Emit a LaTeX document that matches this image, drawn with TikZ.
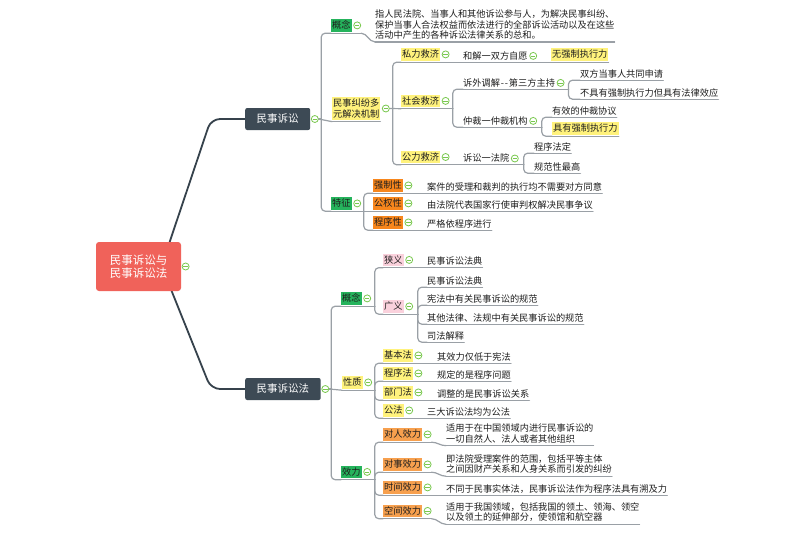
\documentclass[tikz,border=0pt]{standalone}
\usepackage{fontspec}
\newfontfamily\cjk{Noto Sans CJK SC}
\definecolor{rootred}{HTML}{F0625A}
\definecolor{darkbx}{HTML}{3D4A55}
\definecolor{yel}{HTML}{FFF27C}
\definecolor{grn}{HTML}{25B35C}
\definecolor{org}{HTML}{F7861C}
\definecolor{orgl}{HTML}{F7A04E}
\definecolor{pnk}{HTML}{FAD1DC}
\definecolor{lin}{HTML}{9AA0A6}
\definecolor{icg}{HTML}{79C84E}
\definecolor{txt}{HTML}{1E1E1E}
\definecolor{rootln}{HTML}{36424C}
\newcommand{\mmf}{\cjk\fontsize{9.2pt}{10.4pt}\selectfont}
\newcommand{\mk}[2]{\coordinate (#1s) at ([yshift=-1.5pt]#1.south west); \coordinate (#1e) at (#1s -| #2.east); \draw[ln] (#1s) -- (#1e);}
\newcommand{\mkm}[2]{\coordinate (#1s) at ([yshift=-2.5pt]#1.south west); \coordinate (#1e) at (#1s -| #2.east); \draw[ln] (#1s) -- (#1e);}
\newcommand{\lk}[3]{\draw[ln] (#1e) -- ++(#2,0); \draw[ln] ([xshift=#2pt]#1e) |- (#3s);}
\newcommand{\lks}[2]{\draw[ln] (#1e) -- (#2s);}
\newcommand{\lkc}[2]{\draw[ln] (#1e) .. controls +(6,0) and +(-6,0) .. (#2s);}
\pgfdeclarelayer{back}
\pgfdeclarelayer{bg}
\pgfsetlayers{back,bg,main}
\begin{document}
\begin{tikzpicture}[x=1pt,y=-1pt,
  t/.style={inner sep=0pt, anchor=west, font=\mmf, text=txt, text height=7.8pt, text depth=1.4pt},
  tm/.style={inner sep=0pt, anchor=west, font=\mmf, text=txt, align=left},
  bx/.style={t, inner xsep=1pt, inner ysep=1.5pt},
  yb/.style={bx, fill=yel}, gb/.style={bx, fill=grn}, ob/.style={bx, fill=org},
  ol/.style={bx, fill=orgl}, pb/.style={bx, fill=pnk},
  ybm/.style={tm, fill=yel, inner xsep=1pt, inner ysep=2pt},
  tb/.style={fill=darkbx, text=white, rounded corners=2pt, anchor=west,
    font=\cjk\fontsize{10.5pt}{12pt}\selectfont, minimum height=22pt,
    inner xsep=11.5pt, inner ysep=0pt, text height=8.6pt, text depth=1.2pt},
  rt/.style={fill=rootred, text=white, rounded corners=3pt, align=center,
    font=\cjk\fontsize{11.5pt}{13pt}\selectfont, minimum width=85pt,
    minimum height=49pt, inner sep=0pt},
  ic/.style={circle, draw=icg, fill=white, line width=0.8pt, minimum size=7pt,
    inner sep=0pt, anchor=west, path picture={\draw[icg, line width=0.8pt]
    ([xshift=-2.2pt]path picture bounding box.center) --
    ([xshift=2.2pt]path picture bounding box.center);}},
  ln/.style={draw=lin, line width=1.2pt, rounded corners=4pt, line cap=round},
  rl/.style={draw=rootln, line width=1.8pt, rounded corners=9pt, line cap=round}]
\begin{pgfonlayer}{back}
\fill[white] (0,0) rectangle (800,533);
\end{pgfonlayer}
\useasboundingbox (0,0) rectangle (800,533);
% root and main branches
\node[rt] (R) at (138.5,266.5) {民事诉讼与\\民事诉讼法};
\node[ic] (Ri) at ([xshift=0.5pt]R.east) {};
\node[tb] (B1) at (245,119) {民事诉讼};
\node[ic] (B1i) at ([xshift=0.5pt]B1.east) {};
\node[tb] (B2) at (245,389) {民事诉讼法};
\node[ic] (B2i) at ([xshift=0.5pt]B2.east) {};
% ---- 民事诉讼
\node[gb] (K1) at (331,25.4) {概念};
\node[ic] (K1i) at ([xshift=1.5pt]K1.east) {};
\node[tm] (K1t) at (375,24.5) {指人民法院、当事人和其他诉讼参与人，为解决民事纠纷、\\保护当事人合法权益而依法进行的全部诉讼活动以及在这些\\活动中产生的各种诉讼法律关系的总和。};
\node[ybm] (K2) at (332,108.5) {民事纠纷多\\元解决机制};
\node[ic] (K2i) at ([xshift=1.5pt]K2.east) {};
\node[gb] (K3) at (331,203.4) {特征};
\node[ic] (K3i) at ([xshift=1.5pt]K3.east) {};
% 私力救济
\node[yb] (S1) at (401,54.4) {私力救济};
\node[ic] (S1i) at ([xshift=1.5pt]S1.east) {};
\node[t] (S1a) at (463,55.9) {和解一双方自愿};
\node[ic] (S1ai) at ([xshift=1.5pt]S1a.east) {};
\node[yb] (S1b) at (551,54.4) {无强制执行力};
% 社会救济
\node[yb] (S2) at (401,100.9) {社会救济};
\node[ic] (S2i) at ([xshift=1.5pt]S2.east) {};
\node[t] (S2a) at (463,82.9) {诉外调解\kern0.8pt-\kern1pt-\kern0.8pt第三方主持};
\node[ic] (S2ai) at ([xshift=1.5pt]S2a.east) {};
\node[t] (S2a1) at (580,73.9) {双方当事人共同申请};
\node[t] (S2a2) at (580,92.9) {不具有强制执行力但具有法律效应};
\node[t] (S2b) at (463,120.9) {仲裁一仲裁机构};
\node[ic] (S2bi) at ([xshift=1.5pt]S2b.east) {};
\node[t] (S2b1) at (552,110.9) {有效的仲裁协议};
\node[yb] (S2b2) at (552,128.4) {具有强制执行力};
% 公力救济
\node[yb] (S3) at (401,157) {公力救济};
\node[ic] (S3i) at ([xshift=1.5pt]S3.east) {};
\node[t] (S3a) at (463,158.5) {诉讼一法院};
\node[ic] (S3ai) at ([xshift=1.5pt]S3a.east) {};
\node[t] (S3a1) at (534,146.9) {程序法定};
\node[t] (S3a2) at (534,166.9) {规范性最高};
% 特征
\node[ob] (T1) at (373,185.4) {强制性};
\node[ic] (T1i) at ([xshift=1.5pt]T1.east) {};
\node[t] (T1a) at (427,186.9) {案件的受理和裁判的执行均不需要对方同意};
\node[ob] (T2) at (373,203.4) {公权性};
\node[ic] (T2i) at ([xshift=1.5pt]T2.east) {};
\node[t] (T2a) at (427,204.9) {由法院代表国家行使审判权解决民事争议};
\node[ob] (T3) at (373,222.4) {程序性};
\node[ic] (T3i) at ([xshift=1.5pt]T3.east) {};
\node[t] (T3a) at (427,223.9) {严格依程序进行};
% ---- 民事诉讼法
\node[gb] (L1) at (341,298.4) {概念};
\node[ic] (L1i) at ([xshift=1.5pt]L1.east) {};
\node[pb] (N1) at (383,259.9) {狭义};
\node[ic] (N1i) at ([xshift=1.5pt]N1.east) {};
\node[t] (N1a) at (427,261.4) {民事诉讼法典};
\node[pb] (N2) at (383,306.4) {广义};
\node[ic] (N2i) at ([xshift=1.5pt]N2.east) {};
\node[t] (N2a) at (427,280.9) {民事诉讼法典};
\node[t] (N2b) at (427,298.9) {宪法中有关民事诉讼的规范};
\node[t] (N2c) at (427,317.9) {其他法律、法规中有关民事诉讼的规范};
\node[t] (N2d) at (427,335.9) {司法解释};
\node[yb] (L2) at (342,382.4) {性质};
\node[ic] (L2i) at ([xshift=1.5pt]L2.east) {};
\node[yb] (P1) at (383,355.4) {基本法};
\node[ic] (P1i) at ([xshift=1.5pt]P1.east) {};
\node[t] (P1a) at (437,356.9) {其效力仅低于宪法};
\node[yb] (P2) at (383,373.4) {程序法};
\node[ic] (P2i) at ([xshift=1.5pt]P2.east) {};
\node[t] (P2a) at (437,374.9) {规定的是程序问题};
\node[yb] (P3) at (383,392.4) {部门法};
\node[ic] (P3i) at ([xshift=1.5pt]P3.east) {};
\node[t] (P3a) at (437,393.9) {调整的是民事诉讼关系};
\node[yb] (P4) at (383,410.4) {公法};
\node[ic] (P4i) at ([xshift=1.5pt]P4.east) {};
\node[t] (P4a) at (427,411.9) {三大诉讼法均为公法};
\node[gb] (L3) at (341,471.9) {效力};
\node[ic] (L3i) at ([xshift=1.5pt]L3.east) {};
\node[ol] (Q1) at (383,434.4) {对人效力};
\node[ic] (Q1i) at ([xshift=1.5pt]Q1.east) {};
\node[tm] (Q1a) at (446,433.5) {适用于在中国领域内进行民事诉讼的\\一切自然人、法人或者其他组织};
\node[ol] (Q2) at (383,464.4) {对事效力};
\node[ic] (Q2i) at ([xshift=1.5pt]Q2.east) {};
\node[tm] (Q2a) at (446,464) {即法院受理案件的范围，包括平等主体\\之间因财产关系和人身关系而引发的纠纷};
\node[ol] (Q3) at (383,487.4) {时间效力};
\node[ic] (Q3i) at ([xshift=1.5pt]Q3.east) {};
\node[t] (Q3a) at (446,488.9) {不同于民事实体法，民事诉讼法作为程序法具有溯及力};
\node[ol] (Q4) at (383,510.9) {空间效力};
\node[ic] (Q4i) at ([xshift=1.5pt]Q4.east) {};
\node[tm] (Q4a) at (446,512) {适用于我国领域，包括我国的领土、领海、领空\\以及领土的延伸部分，使领馆和航空器};
% ---- connectors
\begin{pgfonlayer}{bg}
\draw[rl] ([xshift=-11.5pt]R.north east) -- ([xshift=-34pt]B1.west) -- (B1.west);
\draw[rl] ([xshift=-9.5pt]R.south east) -- ([xshift=-34pt]B2.west) -- (B2.west);
\coordinate (B1e) at (B1i.east);
\coordinate (B2e) at (B2i.east);
\mk{K1}{K1i} \mkm{K1t}{K1t} \mk{K2}{K2} \mk{K3}{K3i}
\coordinate (K2e) at (K2i.east);
\mk{S1}{S1i} \mk{S1a}{S1ai} \mk{S1b}{S1b}
\mk{S2}{S2i} \mk{S2a}{S2ai} \mk{S2a1}{S2a1} \mk{S2a2}{S2a2}
\mk{S2b}{S2bi} \mk{S2b1}{S2b1} \mk{S2b2}{S2b2}
\mk{S3}{S3i} \mk{S3a}{S3ai} \mk{S3a1}{S3a1} \mk{S3a2}{S3a2}
\mk{T1}{T1i} \mk{T1a}{T1a} \mk{T2}{T2i} \mk{T2a}{T2a} \mk{T3}{T3i} \mk{T3a}{T3a}
\mk{L1}{L1i} \mk{N1}{N1i} \mk{N1a}{N1a} \mk{N2}{N2i}
\mk{N2a}{N2a} \mk{N2b}{N2b} \mk{N2c}{N2c} \mk{N2d}{N2d}
\mk{L2}{L2i} \mk{P1}{P1i} \mk{P1a}{P1a} \mk{P2}{P2i} \mk{P2a}{P2a}
\mk{P3}{P3i} \mk{P3a}{P3a} \mk{P4}{P4i} \mk{P4a}{P4a}
\mk{L3}{L3i} \mk{Q1}{Q1i} \mkm{Q1a}{Q1a} \mk{Q2}{Q2i} \mkm{Q2a}{Q2a}
\mk{Q3}{Q3i} \mk{Q3a}{Q3a} \mk{Q4}{Q4i} \mkm{Q4a}{Q4a}
% links
\lk{B1}{2.5}{K1} \lks{B1}{K2} \lk{B1}{2.5}{K3}
\lkc{K1}{K1t}
\lk{K2}{3}{S1} \lks{K2}{S2} \lk{K2}{3}{S3}
\lks{S1}{S1a} \lks{S1a}{S1b}
\lk{S2}{3.3}{S2a} \lk{S2}{3.3}{S2b}
\lk{S2a}{4}{S2a1} \lk{S2a}{4}{S2a2}
\lk{S2b}{4.7}{S2b1} \lk{S2b}{4.7}{S2b2}
\lks{S3}{S3a}
\lk{S3a}{5}{S3a1} \lk{S3a}{5}{S3a2}
\lk{K3}{2.7}{T1} \lks{K3}{T2} \lk{K3}{2.7}{T3}
\lks{T1}{T1a} \lks{T2}{T2a} \lks{T3}{T3a}
\lk{B2}{2}{L1} \lks{B2}{L2} \lk{B2}{2}{L3}
\lk{L1}{3.7}{N1} \lk{L1}{3.7}{N2}
\lks{N1}{N1a}
\lk{N2}{4.7}{N2a} \lk{N2}{4.7}{N2b} \lk{N2}{4.7}{N2c} \lk{N2}{4.7}{N2d}
\lk{L2}{2.7}{P1} \lk{L2}{2.7}{P2} \lk{L2}{2.7}{P3} \lk{L2}{2.7}{P4}
\lks{P1}{P1a} \lks{P2}{P2a} \lks{P3}{P3a} \lks{P4}{P4a}
\lk{L3}{3.7}{Q1} \lk{L3}{3.7}{Q2} \lk{L3}{3.7}{Q3} \lk{L3}{3.7}{Q4}
\lkc{Q1}{Q1a} \lkc{Q2}{Q2a} \lks{Q3}{Q3a} \lkc{Q4}{Q4a}
\end{pgfonlayer}
\end{tikzpicture}
\end{document}
